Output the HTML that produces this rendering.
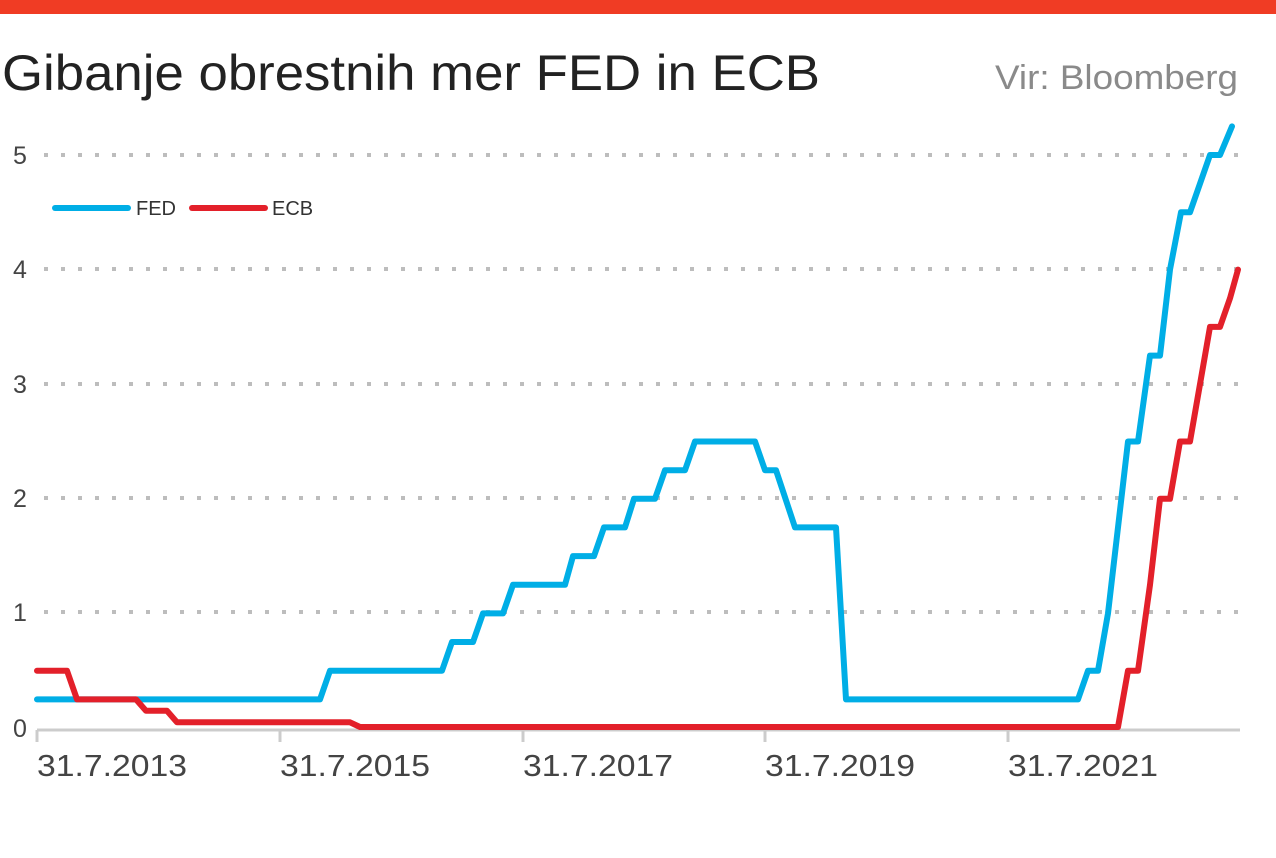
<!DOCTYPE html>
<html><head><meta charset="utf-8"><style>
html,body{margin:0;padding:0;background:#fff;}
svg{display:block;}
text{font-family:"Liberation Sans",sans-serif;}
</style></head><body>
<svg width="1276" height="858" viewBox="0 0 1276 858" xmlns="http://www.w3.org/2000/svg">
<rect x="0" y="0" width="1276" height="14" fill="#f03c24"/>
<text x="2" y="90" font-size="50" fill="#222" textLength="818" lengthAdjust="spacingAndGlyphs">Gibanje obrestnih mer FED in ECB</text>
<text x="995" y="89" font-size="34" fill="#8a8a8a" textLength="243" lengthAdjust="spacingAndGlyphs">Vir: Bloomberg</text>
<g stroke="#bdbdbd" stroke-width="4" stroke-dasharray="4,13">
<line x1="44" y1="155" x2="1240" y2="155"/>
<line x1="44" y1="269" x2="1240" y2="269"/>
<line x1="44" y1="384" x2="1240" y2="384"/>
<line x1="44" y1="498" x2="1240" y2="498"/>
<line x1="44" y1="612" x2="1240" y2="612"/>
</g>
<g font-size="25" fill="#444">
<text x="13" y="164">5</text><text x="13" y="278">4</text><text x="13" y="393">3</text>
<text x="13" y="507">2</text><text x="13" y="621">1</text><text x="13" y="737">0</text>
</g>
<line x1="37" y1="730" x2="1240" y2="730" stroke="#ccc" stroke-width="3"/>
<g stroke="#ccc" stroke-width="3">
<line x1="37" y1="730" x2="37" y2="742"/><line x1="280" y1="730" x2="280" y2="742"/>
<line x1="523" y1="730" x2="523" y2="742"/><line x1="765" y1="730" x2="765" y2="742"/>
<line x1="1008" y1="730" x2="1008" y2="742"/>
</g>
<g font-size="31" fill="#444">
<text x="37" y="776" textLength="150" lengthAdjust="spacingAndGlyphs">31.7.2013</text>
<text x="280" y="776" textLength="150" lengthAdjust="spacingAndGlyphs">31.7.2015</text>
<text x="523" y="776" textLength="150" lengthAdjust="spacingAndGlyphs">31.7.2017</text>
<text x="765" y="776" textLength="150" lengthAdjust="spacingAndGlyphs">31.7.2019</text>
<text x="1008" y="776" textLength="150" lengthAdjust="spacingAndGlyphs">31.7.2021</text>
</g>
<polyline fill="none" stroke="#00aee6" stroke-width="6" stroke-linejoin="round" stroke-linecap="round" points="37,699.4 320,699.4 330,670.7 442,670.7 452,642 473,642 483,613.4 503,613.4 513,584.8 565,584.8 573,556.1 594,556.1 604,527.4 625,527.4 634,498.8 655,498.8 665,470.2 685,470.2 695,441.5 755,441.5 765,470.2 776,470.2 795,527.4 836,527.4 846,699.4 1078,699.4 1088,670.7 1098,670.7 1108,613.4 1128,441.5 1138,441.5 1150,355.6 1160,355.6 1170,269.6 1181,212.3 1190,212.3 1210,155 1220,155 1232,126.4"/>
<polyline fill="none" stroke="#e3202a" stroke-width="6" stroke-linejoin="round" stroke-linecap="round" points="37,670.7 67,670.7 77,699.4 136,699.4 146,710.8 167,710.8 177,722.3 350,722.3 360,727 1118,727 1128,670.7 1138,670.7 1150,584.8 1160,498.8 1170,498.8 1180,441.5 1190,441.5 1200,384.2 1210,326.9 1220,326.9 1230,298.3 1238,269.6"/>
<line x1="55" y1="208" x2="128" y2="208" stroke="#00aee6" stroke-width="6" stroke-linecap="round"/>
<text x="136" y="215" font-size="20" fill="#333">FED</text>
<line x1="192" y1="208" x2="265" y2="208" stroke="#e3202a" stroke-width="6" stroke-linecap="round"/>
<text x="272" y="215" font-size="20" fill="#333">ECB</text>
</svg>
</body></html>
